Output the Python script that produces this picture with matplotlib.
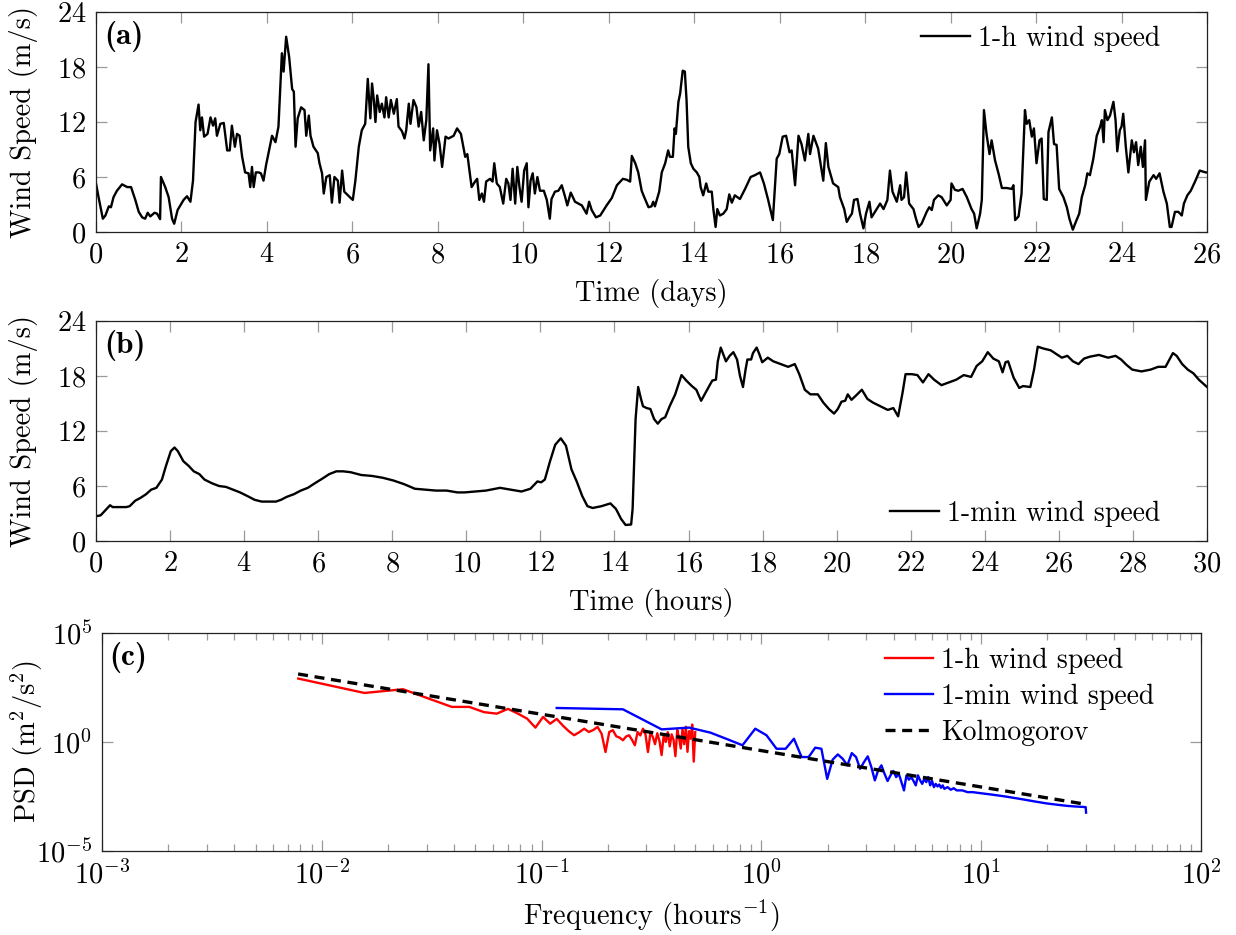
import numpy as np
import matplotlib.pyplot as plt
from matplotlib.ticker import LogLocator, NullLocator, FixedLocator

plt.rcParams["font.family"] = "cmr10"
plt.rcParams["mathtext.fontset"] = "cm"
plt.rcParams["axes.formatter.use_mathtext"] = True
plt.rcParams["axes.unicode_minus"] = False
plt.rcParams["font.size"] = 20.5

# (a) 1-h wind speed, time in days
a_t = [0.00, 0.06, 0.16, 0.22, 0.30, 0.35, 0.41, 0.49, 0.61, 0.73, 0.82, 0.92, 1.00, 1.08, 1.15,
       1.21, 1.27, 1.37, 1.43, 1.50, 1.52, 1.62, 1.70, 1.78, 1.83, 1.91, 2.05, 2.13, 2.21, 2.27,
       2.33, 2.40, 2.44, 2.48, 2.53, 2.61, 2.68, 2.74, 2.79, 2.83, 2.91, 2.99, 3.07, 3.13, 3.18,
       3.25, 3.30, 3.36, 3.42, 3.49, 3.57, 3.61, 3.65, 3.69, 3.74, 3.81, 3.86, 3.92, 3.98, 4.12,
       4.20, 4.27, 4.35, 4.39, 4.45, 4.52, 4.59, 4.63, 4.67, 4.72, 4.80, 4.88, 4.92, 4.98, 5.02,
       5.09, 5.19, 5.23, 5.29, 5.33, 5.39, 5.47, 5.52, 5.58, 5.66, 5.70, 5.76, 5.81, 5.94, 6.01,
       6.07, 6.15, 6.22, 6.30, 6.36, 6.42, 6.46, 6.50, 6.54, 6.58, 6.64, 6.69, 6.75, 6.79, 6.85,
       6.90, 6.97, 7.04, 7.08, 7.16, 7.22, 7.26, 7.32, 7.36, 7.43, 7.50, 7.55, 7.61, 7.67, 7.73,
       7.78, 7.82, 7.89, 7.92, 7.98, 8.04, 8.10, 8.18, 8.25, 8.37, 8.45, 8.54, 8.64, 8.69, 8.79,
       8.87, 8.92, 8.97, 9.03, 9.08, 9.13, 9.22, 9.28, 9.32, 9.38, 9.45, 9.53, 9.60, 9.65, 9.70,
       9.75, 9.81, 9.86, 9.91, 9.96, 10.02, 10.08, 10.12, 10.17, 10.22, 10.27, 10.33, 10.39, 10.48,
       10.55, 10.62, 10.66, 10.74, 10.82, 10.90, 10.98, 11.03, 11.11, 11.21, 11.37, 11.48, 11.54,
       11.60, 11.70, 11.80, 11.95, 12.07, 12.19, 12.33, 12.42, 12.50, 12.54, 12.62, 12.69, 12.77,
       12.83, 12.93, 13.00, 13.04, 13.08, 13.18, 13.24, 13.32, 13.39, 13.43, 13.50, 13.54, 13.57,
       13.63, 13.67, 13.73, 13.78, 13.82, 13.86, 13.92, 13.98, 14.06, 14.12, 14.15, 14.21, 14.28,
       14.33, 14.41, 14.45, 14.50, 14.54, 14.60, 14.68, 14.76, 14.82, 14.88, 14.95, 15.07, 15.19,
       15.32, 15.42, 15.54, 15.63, 15.73, 15.84, 15.93, 15.99, 16.07, 16.15, 16.23, 16.28, 16.36,
       16.44, 16.51, 16.59, 16.67, 16.71, 16.79, 16.90, 17.02, 17.08, 17.14, 17.25, 17.37, 17.41,
       17.51, 17.57, 17.63, 17.69, 17.74, 17.82, 17.88, 17.96, 18.02, 18.10, 18.15, 18.23, 18.35,
       18.43, 18.52, 18.58, 18.64, 18.74, 18.82, 18.85, 18.91, 18.96, 19.03, 19.13, 19.19, 19.25,
       19.32, 19.44, 19.50, 19.56, 19.61, 19.71, 19.79, 19.91, 20.00, 20.02, 20.10, 20.18, 20.28,
       20.38, 20.49, 20.55, 20.61, 20.69, 20.73, 20.78, 20.84, 20.91, 20.96, 21.04, 21.12, 21.20,
       21.31, 21.43, 21.47, 21.51, 21.59, 21.66, 21.74, 21.78, 21.84, 21.90, 21.95, 22.01, 22.08,
       22.13, 22.18, 22.25, 22.29, 22.37, 22.42, 22.48, 22.54, 22.64, 22.72, 22.78, 22.86, 22.93,
       23.01, 23.07, 23.15, 23.20, 23.26, 23.34, 23.42, 23.50, 23.54, 23.58, 23.61, 23.67, 23.73,
       23.81, 23.86, 23.90, 23.96, 24.00, 24.04, 24.10, 24.16, 24.24, 24.29, 24.34, 24.39, 24.45,
       24.50, 24.55, 24.57, 24.65, 24.75, 24.81, 24.89, 24.98, 25.06, 25.13, 25.17, 25.25, 25.33,
       25.41, 25.46, 25.54, 25.62, 25.72, 25.83, 25.97, 26.00]
a_v = [5.3, 3.8, 1.45, 1.8, 2.8, 2.7, 3.8, 4.5, 5.2, 4.9, 4.9, 3.5, 2.2, 1.6, 1.45,
       2.1, 1.7, 2.1, 2.0, 1.4, 6.0, 4.9, 3.8, 1.45, 0.9, 2.4, 3.5, 3.9, 3.3, 5.6,
       12.0, 13.9, 11.1, 12.5, 10.4, 10.7, 12.5, 11.6, 12.4, 10.5, 11.8, 11.9, 8.9, 8.9, 11.6,
       9.3, 10.7, 10.5, 8.2, 6.5, 6.4, 4.9, 7.1, 4.9, 6.5, 6.5, 6.4, 5.6, 7.3, 10.5,
       9.8, 11.5, 19.5, 17.5, 21.3, 19.1, 15.6, 15.3, 9.3, 12.4, 13.6, 13.3, 10.5, 12.7, 10.5,
       9.3, 8.6, 7.5, 6.4, 4.2, 6.0, 6.2, 3.2, 6.0, 5.6, 3.2, 6.7, 4.4, 3.8, 3.5,
       5.6, 9.3, 11.1, 11.8, 16.7, 12.4, 16.2, 14.5, 12.0, 14.9, 13.1, 14.0, 12.5, 14.7, 12.5,
       14.4, 12.9, 14.5, 11.5, 11.0, 10.2, 11.1, 14.0, 11.8, 14.4, 13.6, 11.5, 13.1, 10.0, 12.2,
       18.3, 8.9, 11.3, 7.8, 11.1, 9.6, 7.1, 10.4, 10.2, 10.5, 11.3, 10.7, 8.2, 8.5, 4.9,
       5.5, 5.8, 3.5, 4.2, 3.3, 5.5, 5.8, 5.5, 7.5, 5.3, 4.9, 3.1, 5.8, 5.3, 3.5,
       6.9, 3.1, 7.1, 4.9, 3.3, 6.7, 7.5, 2.7, 5.6, 6.4, 4.2, 6.0, 4.5, 4.5,
       3.5, 1.45, 3.6, 4.4, 4.5, 5.1, 3.8, 2.9, 4.3, 3.3, 2.9, 2.0, 3.3,
       2.4, 1.6, 1.8, 2.9, 3.7, 5.1, 5.8, 5.7, 5.5, 8.3, 7.5, 6.5, 4.5,
       3.8, 2.7, 2.8, 3.3, 2.8, 4.4, 6.5, 7.5, 8.9, 8.2, 8.2, 11.3, 10.7,
       14.2, 15.1, 17.6, 17.5, 14.4, 9.3, 7.5, 6.9, 6.5, 6.0, 4.9, 4.0, 5.3,
       4.4, 4.4, 2.4, 0.55, 2.5, 1.8, 2.0, 2.5, 4.1, 3.2, 4.0, 3.6, 4.7,
       6.0, 6.2, 6.5, 5.3, 3.5, 1.3, 8.0, 8.5, 10.4, 10.5, 8.7, 8.9, 5.1,
       10.5, 9.6, 7.8, 10.7, 8.5, 10.5, 9.1, 5.6, 9.7, 7.1, 5.3, 4.9, 3.8,
       2.5, 1.1, 1.6, 2.0, 3.5, 3.6, 2.0, 0.4, 2.0, 3.3, 1.6, 2.2, 3.1,
       2.5, 3.5, 6.7, 4.4, 3.3, 5.1, 3.5, 3.8, 6.5, 3.1, 2.5, 1.45, 0.55,
       0.9, 2.2, 2.7, 2.4, 3.5, 4.0, 3.8, 2.9, 3.5, 5.3, 4.6, 4.5, 4.7,
       3.8, 2.5, 2.0, 0.4, 2.0, 3.5, 13.3, 10.7, 8.5, 10.0, 7.8, 6.4, 4.8,
       4.8, 4.7, 5.1, 1.3, 1.7, 4.2, 13.3, 11.8, 12.2, 10.4, 11.3, 7.5, 10.0,
       10.2, 3.6, 3.5, 10.9, 12.5, 9.6, 9.5, 4.7, 3.8, 2.7, 1.45, 0.25, 1.1,
       2.0, 3.8, 5.1, 6.4, 6.2, 8.0, 10.5, 11.5, 12.2, 9.8, 13.3, 12.2, 12.7,
       14.2, 12.2, 8.8, 11.1, 11.5, 12.9, 9.3, 6.5, 10.0, 8.7, 9.8, 7.3, 9.3,
       7.1, 10.0, 3.5, 5.5, 6.2, 5.8, 6.4, 4.4, 3.1, 0.55, 0.55, 2.2, 2.2,
       1.8, 3.1, 4.0, 4.5, 5.5, 6.7, 6.5, 6.5]

# (b) 1-min wind speed, time in hours
b_t = [0.0, 0.125, 0.24, 0.38, 0.45, 0.63, 0.82, 0.91, 1.06, 1.20, 1.35, 1.49, 1.63, 1.78, 1.89,
       2.02, 2.12, 2.21, 2.36, 2.50, 2.64, 2.79, 2.93, 3.13, 3.32, 3.51, 3.70, 3.89, 4.09, 4.28,
       4.47, 4.66, 4.86, 5.00, 5.14, 5.34, 5.53, 5.72, 5.91, 6.11, 6.30, 6.49, 6.68, 6.88, 7.16,
       7.45, 7.74, 8.03, 8.32, 8.61, 8.89, 9.18, 9.47, 9.76, 9.95, 10.24, 10.53, 10.91, 11.20,
       11.49, 11.73, 11.92, 12.02, 12.12, 12.26, 12.40, 12.55, 12.69, 12.84, 12.98, 13.13, 13.27,
       13.41, 13.65, 13.89, 14.04, 14.18, 14.30, 14.45, 14.49, 14.57, 14.64, 14.71, 14.77, 14.87,
       14.97, 15.07, 15.17, 15.27, 15.37, 15.49, 15.64, 15.81, 15.94, 16.09, 16.21, 16.34, 16.49,
       16.64, 16.74, 16.79, 16.87, 17.01, 17.11, 17.21, 17.31, 17.39, 17.47, 17.54, 17.59, 17.69,
       17.74, 17.84, 17.91, 17.99, 18.14, 18.29, 18.49, 18.69, 18.87, 18.99, 19.14, 19.29, 19.49,
       19.64, 19.79, 19.93, 20.03, 20.13, 20.23, 20.30, 20.40, 20.53, 20.68, 20.83, 20.98, 21.18,
       21.38, 21.53, 21.66, 21.78, 21.86, 22.03, 22.18, 22.33, 22.48, 22.63, 22.83, 23.03, 23.23,
       23.43, 23.63, 23.78, 23.93, 24.08, 24.23, 24.38, 24.48, 24.56, 24.63, 24.78, 24.93, 25.03,
       25.23, 25.33, 25.43, 25.58, 25.78, 25.93, 26.08, 26.23, 26.38, 26.53, 26.68, 26.83, 27.08,
       27.33, 27.53, 27.68, 27.83, 27.98, 28.23, 28.48, 28.68, 28.88, 29.00, 29.08, 29.18, 29.33,
       29.48, 29.63, 29.78, 30.00]
b_v = [2.7, 2.8, 3.3, 3.9, 3.7, 3.7, 3.7, 3.8, 4.4, 4.7, 5.1, 5.6, 5.8, 6.7, 8.2,
       9.8, 10.2, 9.8, 8.7, 8.2, 7.6, 7.3, 6.7, 6.3, 6.0, 5.9, 5.6, 5.3, 4.9, 4.5,
       4.3, 4.3, 4.3, 4.5, 4.8, 5.1, 5.5, 5.8, 6.3, 6.8, 7.3, 7.6, 7.6, 7.5, 7.2,
       7.1, 6.9, 6.6, 6.2, 5.7, 5.6, 5.5, 5.5, 5.3, 5.3, 5.4, 5.5, 5.8, 5.6,
       5.4, 5.7, 6.5, 6.4, 6.7, 8.7, 10.5, 11.2, 10.4, 7.8, 6.5, 4.9, 3.8,
       3.6, 3.8, 4.1, 3.5, 2.4, 1.75, 1.8, 3.5, 13.3, 16.8, 15.6, 14.7, 14.5,
       14.4, 13.3, 12.8, 13.3, 13.5, 14.7, 16.0, 18.1, 17.5, 16.9, 16.5, 15.3, 16.4,
       17.5, 17.6, 19.6, 21.1, 19.6, 20.2, 20.6, 19.8, 18.0, 16.8, 18.7, 19.8, 19.8,
       20.5, 21.1, 20.4, 19.5, 20.0, 19.6, 19.3, 19.0, 19.3, 18.2, 16.5, 16.0, 16.0,
       15.1, 14.4, 13.9, 14.4, 15.2, 15.3, 16.0, 15.4, 15.9, 16.5, 15.5, 15.1, 14.7,
       14.3, 14.5, 13.6, 16.2, 18.2, 18.2, 18.1, 17.3, 18.2, 17.6, 17.0, 17.3, 17.6,
       18.1, 17.9, 19.1, 19.6, 20.6, 19.9, 19.6, 18.4, 19.5, 19.6, 17.8, 16.7, 16.9,
       16.8, 18.7, 21.2, 21.0, 20.8, 20.4, 20.0, 20.2, 19.6, 19.3, 19.9, 20.1, 20.3,
       20.0, 20.2, 19.8, 19.2, 18.7, 18.5, 18.7, 19.0, 19.0, 19.9, 20.5, 20.2, 19.3,
       18.7, 18.3, 17.6, 16.8]

# (c) PSD, log10 values; 1-h series at k/128 h^-1, 1-min series at k*30/256 h^-1
psd_h_k = np.arange(1, 65)
psd_h_log = [2.91, 2.25, 2.42, 1.96, 1.61, 1.61, 1.37, 1.30, 1.52, 1.30,
             1.07, 0.66, 1.15, 0.84, 1.06, 0.75, 0.50, 0.31, 0.45, 0.61,
             0.46, 0.55, 0.69, 0.38, -0.46, 0.46, 0.54, 0.26, 0.20, 0.08,
             0.25, 0.31, 0.10, -0.15, 0.46, 0.30, 0.61, 0.35, -0.46, 0.40,
             0.25, -0.10, 0.40, 0.05, -0.60, 0.30, 0.00, 0.45, -0.20, 0.35,
             0.10, -0.65, 0.55, 0.20, -0.30, 0.60, -0.10, 0.70, -0.45, 0.50,
             0.15, 0.80, -0.90, 0.45]
psd_m_k = [1, 2, 3, 4, 5, 6, 7, 8, 9, 10, 11, 12, 13, 14, 15, 16, 17, 18, 19, 20,
           21, 22, 23, 24, 25, 26, 27, 28, 29, 30, 31, 32, 33, 34, 35, 36, 37, 38, 39, 40,
           41, 42, 43, 44, 45, 46, 47, 48, 49, 50, 51, 52, 53, 54, 55, 56, 57, 58, 60, 62,
           64, 66, 70, 74, 78, 85, 95, 110, 130, 150, 170, 190, 210, 230, 250, 255, 256]
psd_m_log = [1.56, 1.50, 0.58, 0.66, 0.43, 0.12, -0.15, 0.61, 0.31, -0.31,
             -0.31, 0.15, -0.69, -0.69, -0.26, -0.31, -1.69, -0.81, -0.57, -0.77,
             -1.07, -0.51, -0.69, -1.23, -0.92, -0.66, -1.15, -1.76, -1.30, -1.07,
             -1.46, -1.79, -1.53, -1.33, -1.61, -1.46, -1.84, -2.22, -1.53, -1.73,
             -1.61, -1.79, -1.99, -1.53, -1.76, -1.92, -1.69, -1.84, -1.61, -1.99,
             -1.79, -2.07, -1.92, -2.04, -1.95, -2.10, -1.99, -2.15, -2.07, -2.19,
             -2.12, -2.22, -2.22, -2.30, -2.30, -2.35, -2.41, -2.50, -2.62, -2.73,
             -2.82, -2.88, -2.93, -2.96, -2.98, -2.99, -3.24]
kolm_f = [0.0078, 30.0]
kolm_log = [3.12, -2.86]

W, H = 1236, 935
fig = plt.figure(figsize=(W / 100, H / 100), dpi=100)
ax_a = fig.add_axes([96 / W, 1 - 232 / H, 1111 / W, 220 / H])
ax_b = fig.add_axes([96 / W, 1 - 541 / H, 1111 / W, 220 / H])
ax_c = fig.add_axes([102 / W, 1 - 851 / H, 1099 / W, 218 / H])


def style(ax):
	for s in ax.spines.values():
		s.set_linewidth(0.9)
		s.set_color("#222222")
	ax.tick_params(which="both", direction="in", top=True, right=True,
				   color="#9a9a9a", width=0.9, labelsize=20.5, pad=7)
	ax.tick_params(which="major", length=8)
	ax.tick_params(which="minor", length=5)


def panel(ax, tag):
	ax.text(0.007, 0.958, tag, transform=ax.transAxes, va="top", ha="left",
			fontsize=22.5, fontfamily="cmb10")


lw = 1.7
leg = dict(frameon=False, handlelength=1.75, handletextpad=0.3, borderaxespad=0.0, fontsize=20)

plt.sca(ax_a)
plt.plot(a_t, a_v, c="k", lw=lw, label="1-h wind speed")
plt.xlim(0, 26)
plt.ylim(0, 24)
plt.xticks(np.arange(0, 27, 2))
plt.yticks([0, 6, 12, 18, 24])
plt.xlabel("Time (days)", labelpad=8)
plt.ylabel("Wind Speed (m/s)")
ax_a.yaxis.set_label_coords(-0.052, 0.5)
plt.legend(loc="upper right", bbox_to_anchor=(0.968, 0.99), **leg)
panel(ax_a, "(a)")
style(ax_a)

plt.sca(ax_b)
plt.plot(b_t, b_v, c="k", lw=lw, label="1-min wind speed")
plt.xlim(0, 30)
plt.ylim(0, 24)
plt.xticks(np.arange(0, 31, 2))
plt.yticks([0, 6, 12, 18, 24])
plt.xlabel("Time (hours)", labelpad=8)
plt.ylabel("Wind Speed (m/s)")
ax_b.yaxis.set_label_coords(-0.052, 0.5)
plt.legend(loc="lower right", bbox_to_anchor=(0.968, 0.015), **leg)
panel(ax_b, "(b)")
style(ax_b)

plt.sca(ax_c)
plt.loglog(psd_h_k / 128, 10 ** np.array(psd_h_log), c="#ff0000", lw=lw, label="1-h wind speed")
plt.loglog(np.array(psd_m_k) * 30 / 256, 10 ** np.array(psd_m_log), c="#0000ff", lw=lw,
		   label="1-min wind speed")
plt.loglog(kolm_f, 10 ** np.array(kolm_log), c="k", lw=2.4, ls=(0, (3, 2)), label="Kolmogorov")
plt.xlim(1e-3, 1e2)
plt.ylim(1e-5, 1e5)
ax_c.xaxis.set_major_locator(LogLocator(base=10, numticks=10))
ax_c.xaxis.set_minor_locator(LogLocator(base=10, subs=np.arange(2, 10), numticks=20))
ax_c.yaxis.set_major_locator(FixedLocator([1e-5, 1e0, 1e5]))
ax_c.yaxis.set_minor_locator(NullLocator())
plt.xlabel(r"Frequency (hours$^{-1}$)", labelpad=6)
plt.ylabel(r"PSD (m$^2$/s$^2$)")
ax_c.yaxis.set_label_coords(-0.052, 0.5)
plt.legend(loc="upper right", bbox_to_anchor=(0.968, 0.985), labelspacing=0.35, **leg)
panel(ax_c, "(c)")
style(ax_c)

plt.savefig("out.png", dpi=100)
